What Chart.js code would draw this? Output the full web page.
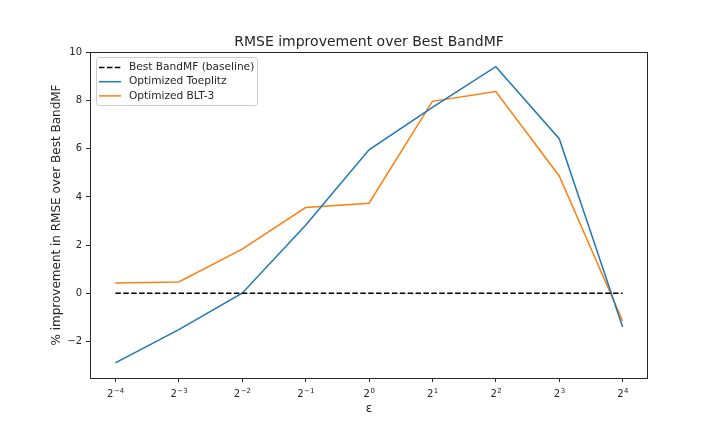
<!DOCTYPE html>
<html>
<head>
<meta charset="utf-8">
<script src="https://cdn.jsdelivr.net/npm/chart.js@4/dist/chart.umd.min.js"></script>
<style>
  html, body { margin: 0; padding: 0; background: #ffffff; }
  #wrap { width: 720px; height: 432px; }
</style>
</head>
<body>
<div id="wrap"><canvas id="rmse_chart" width="720" height="432"></canvas></div>
<script>
// values
const epsilons = [1 / 16, 1 / 8, 1 / 4, 1 / 2, 1, 2, 4, 8, 16];
const baselineValues = [0, 0, 0, 0, 0, 0, 0, 0, 0];
const toeplitzValues = [-2.89, -1.51, 0.0, 2.82, 5.96, 7.72, 9.41, 6.42, -1.40];
const bltValues = [0.43, 0.47, 1.83, 3.56, 3.74, 7.97, 8.38, 4.87, -1.15];
const yTicks = [-2, 0, 2, 4, 6, 8, 10];

const seriesNames = ["Best BandMF (baseline)", "Optimized Toeplitz", "Optimized BLT-3"];
const chartTitle = "RMSE improvement over Best BandMF";
const xLabel = "ε";
const yLabel = "% improvement in RMSE over Best BandMF";

const FONT = "'DejaVu Sans', sans-serif";
const INK = "#262626";

function points(ys) {
  return epsilons.map((e, i) => ({ x: e, y: ys[i] }));
}

// title, axis labels, x tick labels (2^k), frame and legend drawn matplotlib-style
const decorPlugin = {
  id: "decor",
  afterDraw(chart) {
    const ctx = chart.ctx;
    const a = chart.chartArea;
    ctx.save();
    // frame
    ctx.strokeStyle = INK;
    ctx.lineWidth = 1;
    ctx.strokeRect(Math.round(a.left) + 0.5, Math.round(a.top) + 0.5,
      Math.round(a.right - a.left) - 1, Math.round(a.bottom - a.top));

    ctx.fillStyle = INK;
    ctx.textAlign = "center";
    ctx.textBaseline = "alphabetic";
    ctx.font = "14px " + FONT;
    ctx.fillText(chartTitle, (a.left + a.right) / 2, 46);

    ctx.font = "12px " + FONT;
    ctx.fillText(xLabel, (a.left + a.right) / 2, 412);

    ctx.save();
    ctx.translate(60, (a.top + a.bottom) / 2);
    ctx.rotate(-Math.PI / 2);
    ctx.fillText(yLabel, 0, 0);
    ctx.restore();

    // x tick labels as 2 with a raised exponent
    const xs = chart.scales.x;
    ctx.textAlign = "left";
    epsilons.forEach((e) => {
      const k = Math.round(Math.log2(e));
      const base = "2";
      const exp = String(k).replace("-", "\u2212");
      ctx.font = "10px " + FONT;
      const wb = ctx.measureText(base).width;
      ctx.font = "7px " + FONT;
      const we = ctx.measureText(exp).width;
      const x0 = xs.getPixelForValue(e) - (wb + we) / 2;
      ctx.font = "10px " + FONT;
      ctx.fillText(base, x0, 397);
      ctx.font = "7px " + FONT;
      ctx.fillText(exp, x0 + wb + 0.5, 393);
    });

    // legend box
    const bx = a.left + 6, by = a.top + 5, bw = 161, bh = 48;
    ctx.beginPath();
    ctx.roundRect(bx + 0.5, by + 0.5, bw, bh, 3);
    ctx.fillStyle = "rgba(255,255,255,0.8)";
    ctx.fill();
    ctx.strokeStyle = "#cccccc";
    ctx.lineWidth = 1;
    ctx.stroke();

    ctx.font = "10.6px " + FONT;
    ctx.textAlign = "left";
    ctx.textBaseline = "middle";
    chart.data.datasets.forEach((ds, i) => {
      const yy = by + 10.5 + i * 14.2;
      ctx.beginPath();
      ctx.setLineDash(ds.borderDash || []);
      ctx.strokeStyle = ds.borderColor;
      ctx.lineWidth = ds.borderWidth;
      ctx.moveTo(bx + 3, yy);
      ctx.lineTo(bx + 25, yy);
      ctx.stroke();
      ctx.setLineDash([]);
      ctx.fillStyle = INK;
      ctx.fillText(ds.label, bx + 33, yy);
    });
    ctx.restore();
  }
};

const config = {
  type: "line",
  data: {
    datasets: [
      {
        label: seriesNames[0],
        data: points(baselineValues),
        borderColor: "#000000",
        borderWidth: 1.5,
        borderDash: [5.5, 2.4],
        pointRadius: 0,
        tension: 0,
      },
      {
        label: seriesNames[1],
        data: points(toeplitzValues),
        borderColor: "#1f77b4",
        borderWidth: 1.5,
        pointRadius: 0,
        tension: 0,
      },
      {
        label: seriesNames[2],
        data: points(bltValues),
        borderColor: "#ff7f0e",
        borderWidth: 1.5,
        pointRadius: 0,
        tension: 0,
      },
    ],
  },
  options: {
    responsive: false,
    animation: false,
    events: [],
    layout: { padding: { left: 0, right: 72, top: 52, bottom: 0 } },
    plugins: {
      legend: { display: false },
      title: { display: false },
      tooltip: { enabled: false },
    },
    scales: {
      x: {
        type: "logarithmic",
        min: Math.pow(2, -4.4),
        max: Math.pow(2, 4.4),
        afterBuildTicks: (scale) => {
          scale.ticks = epsilons.map(v => ({ value: v }));
        },
        afterFit: (scale) => { scale.height = 54; },
        grid: {
          drawOnChartArea: false,
          drawTicks: true,
          tickLength: 4,
          tickColor: INK,
        },
        border: { display: false },
        ticks: {
          display: false,
          autoSkip: false,
        },
      },
      y: {
        type: "linear",
        min: -3.52,
        max: 10.02,
        afterBuildTicks: (scale) => {
          scale.ticks = yTicks.map(v => ({ value: v }));
        },
        afterFit: (scale) => { scale.width = 90; },
        grid: {
          drawOnChartArea: false,
          drawTicks: true,
          tickLength: 4,
          tickColor: INK,
        },
        border: { display: false },
        ticks: {
          padding: 4,
          color: INK,
          font: { family: FONT, size: 10 },
          callback: (v) => String(v).replace("-", "\u2212"),
        },
      },
    },
  },
  plugins: [decorPlugin],
};

new Chart(document.getElementById("rmse_chart").getContext("2d"), config);
</script>
</body>
</html>
